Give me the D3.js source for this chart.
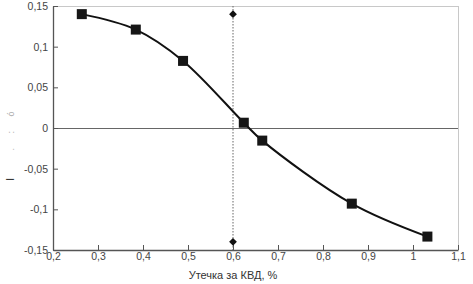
<!DOCTYPE html>
<html>
<head>
<meta charset="utf-8">
<script src="https://cdn.jsdelivr.net/npm/d3@7"></script>
<style>
  html, body { margin: 0; padding: 0; background: #fff; }
  svg { display: block; font-family: Arial, "Liberation Sans", sans-serif; }
</style>
</head>
<body>
<div id="chart"></div>
<script>
// leakage (%) and error values
const leakX = [0.264, 0.384, 0.489, 0.624, 0.665, 0.864, 1.032];
const errY = [0.140, 0.121, 0.0825, 0.0065, -0.0155, -0.093, -0.1335];

// marker line at 0.6
const markX = [0.6, 0.6];
const markY = [0.14, -0.14];

const xTicks = [0.2, 0.3, 0.4, 0.5, 0.6, 0.7, 0.8, 0.9, 1, 1.1];
const yTicks = [-0.15, -0.1, -0.05, 0, 0.05, 0.1, 0.15];
const xTitle = 'Утечка за КВД, %';

const width = 473, height = 284;
const margin = { top: 6, right: 15, bottom: 34, left: 53 };

const svg = d3.select('#chart').append('svg')
    .attr('width', width)
    .attr('height', height);

const x = d3.scaleLinear().domain([0.2, 1.1]).range([margin.left, width - margin.right]);
const y = d3.scaleLinear().domain([-0.15, 0.15]).range([height - margin.bottom, margin.top]);

const fmt = v => String(v).replace('.', ',');

// frame (top & right lighter)
svg.append('line')
    .attr('x1', x(0.2)).attr('x2', x(1.1))
    .attr('y1', y(0.15) + 0.5).attr('y2', y(0.15) + 0.5)
    .attr('stroke', '#c8c8c8');
svg.append('line')
    .attr('x1', x(1.1) + 0.5).attr('x2', x(1.1) + 0.5)
    .attr('y1', y(0.15)).attr('y2', y(-0.15))
    .attr('stroke', '#c8c8c8');

// zero line
svg.append('line')
    .attr('x1', x(0.2)).attr('x2', x(1.1))
    .attr('y1', Math.round(y(0)) + 0.5).attr('y2', Math.round(y(0)) + 0.5)
    .attr('stroke', '#666').attr('stroke-width', 1.2);

// axes
const xAxis = svg.append('g')
    .attr('transform', `translate(0,${y(-0.15)})`)
    .call(d3.axisBottom(x).tickValues(xTicks).tickFormat(fmt).tickSizeInner(-5).tickSizeOuter(0).tickPadding(5));
const yAxis = svg.append('g')
    .attr('transform', `translate(${x(0.2)},0)`)
    .call(d3.axisLeft(y).tickValues(yTicks).tickFormat(fmt).tickSizeInner(-5).tickSizeOuter(0).tickPadding(5));

[xAxis, yAxis].forEach(g => {
    g.select('.domain').attr('stroke', '#555').attr('stroke-width', 1.3);
    g.selectAll('.tick line').attr('stroke', '#555');
    g.selectAll('.tick text').attr('fill', '#444').style('font-size', '10.5px');
});
xAxis.selectAll('.tick text').attr('dy', '0.5em');

// x title
svg.append('text')
    .attr('x', x(0.6))
    .attr('y', 279)
    .attr('text-anchor', 'middle')
    .attr('fill', '#333')
    .style('font-size', '11px')
    .text(xTitle);

// faint remains of the y title
svg.append('text')
    .attr('transform', `translate(14,${y(0)}) rotate(-90)`)
    .attr('text-anchor', 'middle')
    .attr('fill', '#aaa')
    .style('font-size', '9px')
    .style('letter-spacing', '6px')
    .text('      . :    ó');
svg.append('text')
    .attr('transform', `translate(14,${y(-0.063)}) rotate(-90)`)
    .attr('text-anchor', 'middle')
    .attr('fill', '#222')
    .style('font-size', '10px')
    .text('I');

// dotted vertical line
svg.append('line')
    .attr('x1', x(0.6)).attr('x2', x(0.6))
    .attr('y1', y(0.15)).attr('y2', y(-0.15))
    .attr('stroke', '#666')
    .attr('stroke-dasharray', '1.5,1.5');

// diamonds
svg.selectAll('.diamond')
    .data(markX.map((d, i) => [d, markY[i]]))
    .enter()
    .append('path')
    .attr('class', 'diamond')
    .attr('d', d3.symbol(d3.symbolSquare, 30))
    .attr('transform', d => `translate(${x(d[0])},${y(d[1])}) rotate(45)`)
    .attr('fill', '#111');

// curve
const pts = leakX.map((d, i) => [d, errY[i]]);
svg.append('path')
    .datum(pts)
    .attr('fill', 'none')
    .attr('stroke', '#111')
    .attr('stroke-width', 2)
    .attr('d', d3.line().x(d => x(d[0])).y(d => y(d[1])).curve(d3.curveCatmullRom.alpha(0.5)));

// squares
svg.selectAll('.sq')
    .data(pts)
    .enter()
    .append('rect')
    .attr('class', 'sq')
    .attr('x', d => x(d[0]) - 5)
    .attr('y', d => y(d[1]) - 5)
    .attr('width', 10)
    .attr('height', 10)
    .attr('fill', '#161616');
</script>
</body>
</html>
